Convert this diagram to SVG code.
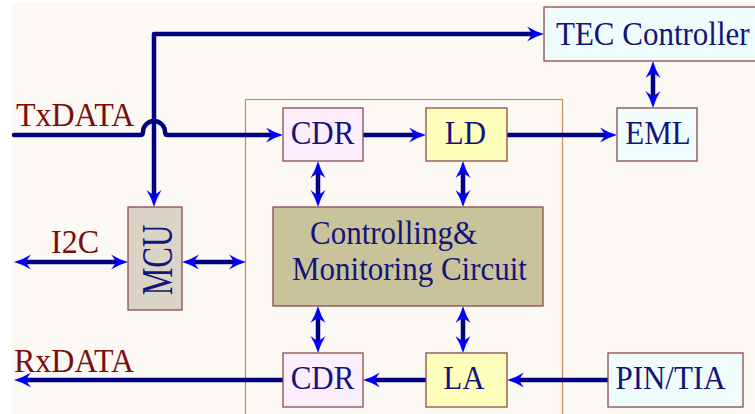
<svg xmlns="http://www.w3.org/2000/svg" width="755" height="414" viewBox="0 0 755 414">
<style>
.box{stroke:#8B4A4A;stroke-width:1.3}
.t{font-family:"Liberation Serif","Times New Roman",serif;font-size:31px;fill:#14147A}
.lbl{font-family:"Liberation Serif","Times New Roman",serif;font-size:32px;fill:#7A0E0E}
.w{fill:none;stroke:#000080;stroke-width:4.5;stroke-linecap:round;stroke-linejoin:round}
</style>
<defs>
<marker id="ah" markerUnits="userSpaceOnUse" markerWidth="20" markerHeight="20" refX="8" refY="0" orient="auto-start-reverse" overflow="visible">
<path d="M17,0 Q8,-2.5 0,-7.5 Q4,-2.5 4.5,0 Q4,2.5 0,7.5 Q8,2.5 17,0Z" fill="#0000FF"/>
</marker>
</defs>
<rect width="755" height="414" fill="#FFFFFF"/>
<rect x="12" y="2" width="743" height="412" fill="#FCF9F4"/>
<rect id="container" x="245.5" y="99.5" width="317" height="330" fill="none" stroke="#C98B55" stroke-width="1.2"/>
<g id="connectors">
<path class="w" d="M535,34 H154 V198" marker-start="url(#ah)" marker-end="url(#ah)"/>
<path class="w" d="M14,135 H140 q3,0 3,-3 a11,11 0 0 1 22,0 q0,3 3,3 H274" marker-end="url(#ah)"/>
<path class="w" d="M363,135 H417" marker-end="url(#ah)"/>
<path class="w" d="M507,135 H608" marker-end="url(#ah)"/>
<path class="w" d="M653,70 V99" marker-start="url(#ah)" marker-end="url(#ah)"/>
<path class="w" d="M318,170 V198" marker-start="url(#ah)" marker-end="url(#ah)"/>
<path class="w" d="M463,170 V198" marker-start="url(#ah)" marker-end="url(#ah)"/>
<path class="w" d="M318,315 V344" marker-start="url(#ah)" marker-end="url(#ah)"/>
<path class="w" d="M463,315 V344" marker-start="url(#ah)" marker-end="url(#ah)"/>
<path class="w" d="M23,262 H119" marker-start="url(#ah)" marker-end="url(#ah)"/>
<path class="w" d="M191,262 H237" marker-start="url(#ah)" marker-end="url(#ah)"/>
<path class="w" d="M283,380 H23" marker-end="url(#ah)"/>
<path class="w" d="M426,380 H372" marker-end="url(#ah)"/>
<path class="w" d="M608,380 H516" marker-end="url(#ah)"/>
</g>
<g id="labels">
<text class="lbl" transform="translate(16,126) scale(1,1.04)">TxDATA</text>
<text class="lbl" transform="translate(51,253) scale(1,1.04)">I2C</text>
<text class="lbl" transform="translate(14,372) scale(1,1.04)">RxDATA</text>
</g>
<g id="tec">
<rect class="box" x="544" y="7" width="215" height="54" fill="#EEFCFC"/>
<text class="t" transform="translate(556,45) scale(1,1.08)">TEC Controller</text>
</g>
<g id="eml">
<rect class="box" x="617" y="108" width="80" height="53" fill="#EEFCFC"/>
<text class="t" text-anchor="middle" transform="translate(658,144) scale(1,1.08)">EML</text>
</g>
<g id="cdr-tx">
<rect class="box" x="283" y="108" width="80" height="53" fill="#FCEEFC"/>
<text class="t" text-anchor="middle" transform="translate(322.5,144) scale(1,1.08)">CDR</text>
</g>
<g id="ld">
<rect class="box" x="426" y="108" width="81" height="53" fill="#FFFFBC"/>
<text class="t" text-anchor="middle" transform="translate(465.5,144) scale(1,1.08)">LD</text>
</g>
<g id="ctrl">
<rect class="box" x="273" y="207" width="270" height="99" fill="#C9C39C"/>
<text class="t" transform="translate(310,244) scale(1,1.08)">Controlling&amp;</text>
<text class="t" transform="translate(292,280) scale(1,1.08)">Monitoring Circuit</text>
</g>
<g id="mcu">
<rect class="box" x="128" y="207" width="54" height="103" fill="#D9D4C5"/>
<text class="t" text-anchor="middle" font-size="30.5" transform="translate(172,260) rotate(-90) scale(1,1.4)">MCU</text>
</g>
<g id="cdr-rx">
<rect class="box" x="283" y="353" width="80" height="54" fill="#FCEEFC"/>
<text class="t" text-anchor="middle" transform="translate(322.5,389) scale(1,1.08)">CDR</text>
</g>
<g id="la">
<rect class="box" x="426" y="353" width="81" height="54" fill="#FFFFBC"/>
<text class="t" text-anchor="middle" transform="translate(464,389) scale(1,1.08)">LA</text>
</g>
<g id="pintia">
<rect class="box" x="608" y="353" width="135" height="54" fill="#EEFCFC"/>
<text class="t" text-anchor="middle" transform="translate(670.5,389) scale(1,1.08)">PIN/TIA</text>
</g>
</svg>
